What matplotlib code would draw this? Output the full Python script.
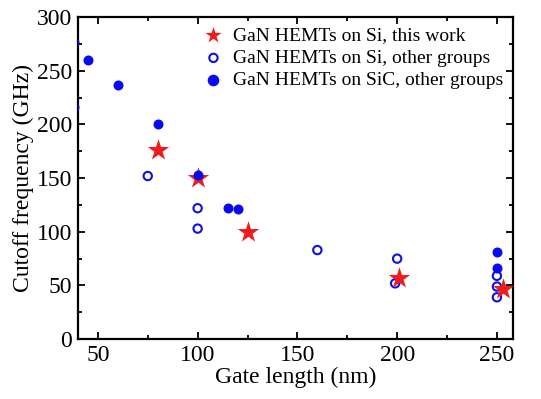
import matplotlib.pyplot as plt
from matplotlib.ticker import MultipleLocator

plt.rcParams['font.family'] = ['Liberation Serif', 'DejaVu Serif']
plt.rcParams['mathtext.fontset'] = 'stix'

# GaN HEMTs on Si, this work
this_x = [80, 100, 125, 201, 253]
this_y = [176, 150, 100, 57, 47]

# GaN HEMTs on Si, other groups
si_x = [75, 100, 100, 160, 200, 199, 250, 250, 250]
si_y = [152, 122, 103, 83, 75, 52, 59, 49, 39]

# GaN HEMTs on SiC, other groups
sic_x = [38, 38, 45, 60, 80, 100, 115, 120, 250, 250]
sic_y = [277, 216, 260, 237, 200, 153, 122, 121, 81, 66]

fig, ax = plt.subplots(figsize=(5.41, 3.99), dpi=100)
fig.subplots_adjust(left=0.144, right=0.948, top=0.957, bottom=0.150)

h2 = ax.scatter(si_x, si_y, s=36, facecolors='none', edgecolors='#1010e0',
                linewidths=1.5, zorder=3, label='GaN HEMTs on Si, other groups')
h1 = ax.scatter(this_x, this_y, s=260, marker='*', color='#ee1c1c',
                linewidths=0, zorder=4, label='GaN HEMTs on Si, this work')
h3 = ax.scatter(sic_x, sic_y, s=52, color='#0a0af0', linewidths=0,
                zorder=5, label='GaN HEMTs on SiC, other groups')

ax.set_xlim(40, 258)
ax.set_ylim(0, 300)
ax.xaxis.set_major_locator(MultipleLocator(50))
ax.xaxis.set_minor_locator(MultipleLocator(25))
ax.yaxis.set_major_locator(MultipleLocator(50))
ax.yaxis.set_minor_locator(MultipleLocator(25))
ax.tick_params(which='both', direction='in', top=True, right=True,
               width=1.3, labelsize=17, pad=4)
ax.tick_params(which='major', length=5)
ax.tick_params(which='minor', length=3)
for s in ax.spines.values():
    s.set_linewidth(1.6)

ax.set_xlabel('Gate length (nm)', fontsize=17, labelpad=1)
ax.set_ylabel('Cutoff frequency (GHz)', fontsize=17, labelpad=2)

leg = ax.legend(handles=[h1, h2, h3], loc='upper right', frameon=False,
                fontsize=14, handletextpad=0.2, handlelength=1.6,
                borderaxespad=0.1, labelspacing=0.25)
leg.legend_handles[0].set_sizes([150])
leg.legend_handles[1].set_sizes([36])
leg.legend_handles[2].set_sizes([70])

fig.savefig('out.png')
